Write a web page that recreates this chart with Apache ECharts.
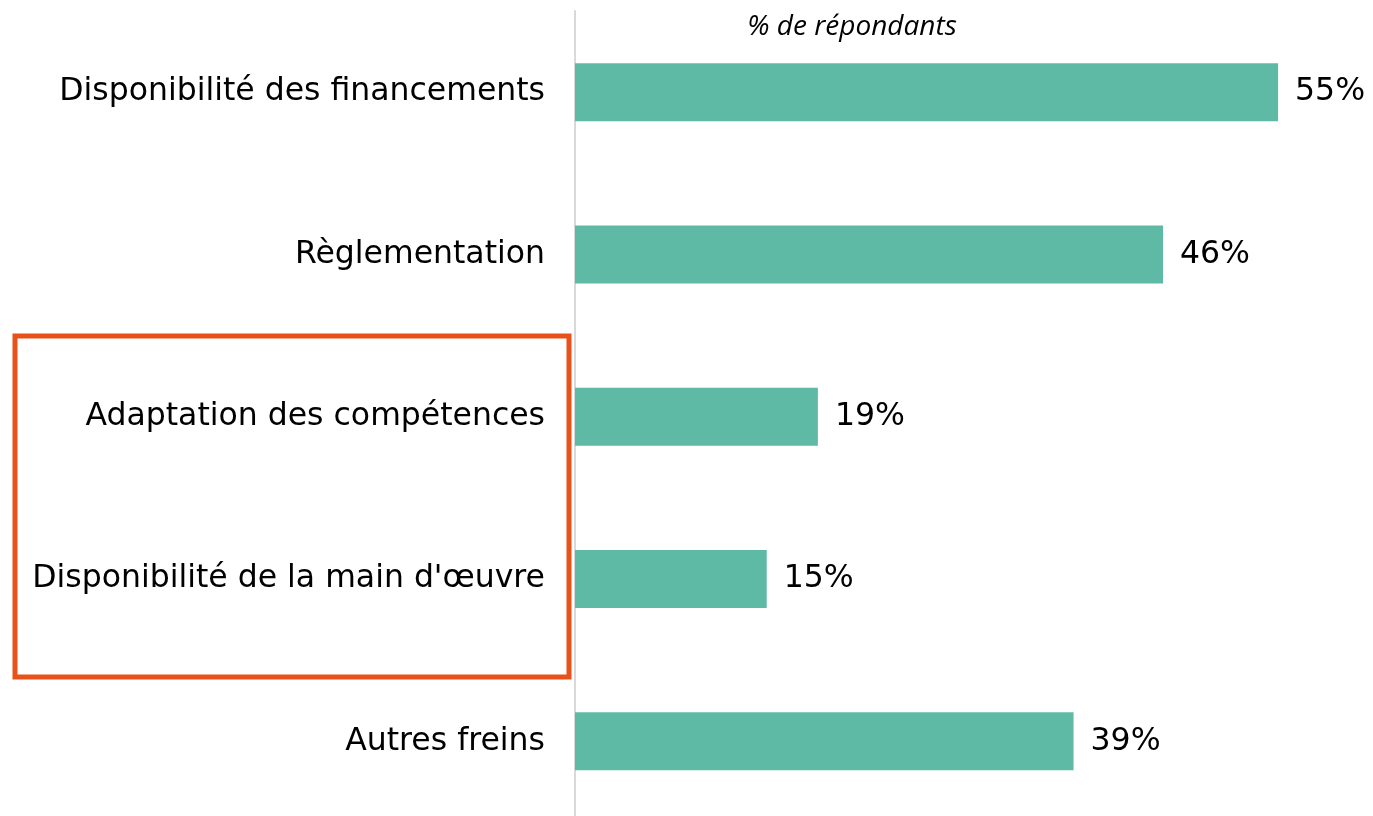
<!DOCTYPE html>
<html>
<head>
<meta charset="utf-8">
<script src="https://cdn.jsdelivr.net/npm/echarts@6/dist/echarts.min.js"></script>
<style>
html,body{margin:0;padding:0;background:#fff;}
#chart{width:1373px;height:816px;}
</style>
</head>
<body>
<div id="chart"></div>
<script>
const categories = ["Disponibilité des financements", "Règlementation", "Adaptation des compétences", "Disponibilité de la main d'œuvre", "Autres freins"];
const values = [55, 46, 19, 15, 39];
const axisTitle = "% de répondants";

const FONT = '"DejaVu Sans", Verdana, sans-serif';
const chart = echarts.init(document.getElementById('chart'), null, {renderer: 'canvas'});
chart.setOption({
  animation: false,
  backgroundColor: '#ffffff',
  grid: {left: 575, width: 767, top: 11, height: 811.5, containLabel: false, outerBoundsMode: 'none'},
  xAxis: {
    type: 'value', min: 0, max: 60, show: false
  },
  yAxis: {
    type: 'category', data: categories, inverse: true,
    axisLine: {show: true, lineStyle: {color: '#D9D9D9', width: 2}},
    axisTick: {show: false},
    axisLabel: {color: '#000', fontFamily: FONT, fontSize: 31.5, margin: 30}
  },
  graphic: [
    {type: 'text', x: 852, y: 27, style: {text: axisTitle, fontFamily: '"Open Sans", sans-serif', fontStyle: 'italic', fontSize: 28, fill: '#000', align: 'center', verticalAlign: 'middle'}},
    {type: 'rect', shape: {x: 15, y: 336, width: 554, height: 341}, style: {fill: 'none', stroke: '#E8521A', lineWidth: 5}, z: 10}
  ],
  series: [{
    type: 'bar', data: values, barWidth: 58,
    itemStyle: {color: '#5EBAA5'},
    label: {show: true, position: 'right', distance: 17, formatter: '{c}%', color: '#000', fontFamily: FONT, fontSize: 31.5}
  }]
});
</script>
</body>
</html>
